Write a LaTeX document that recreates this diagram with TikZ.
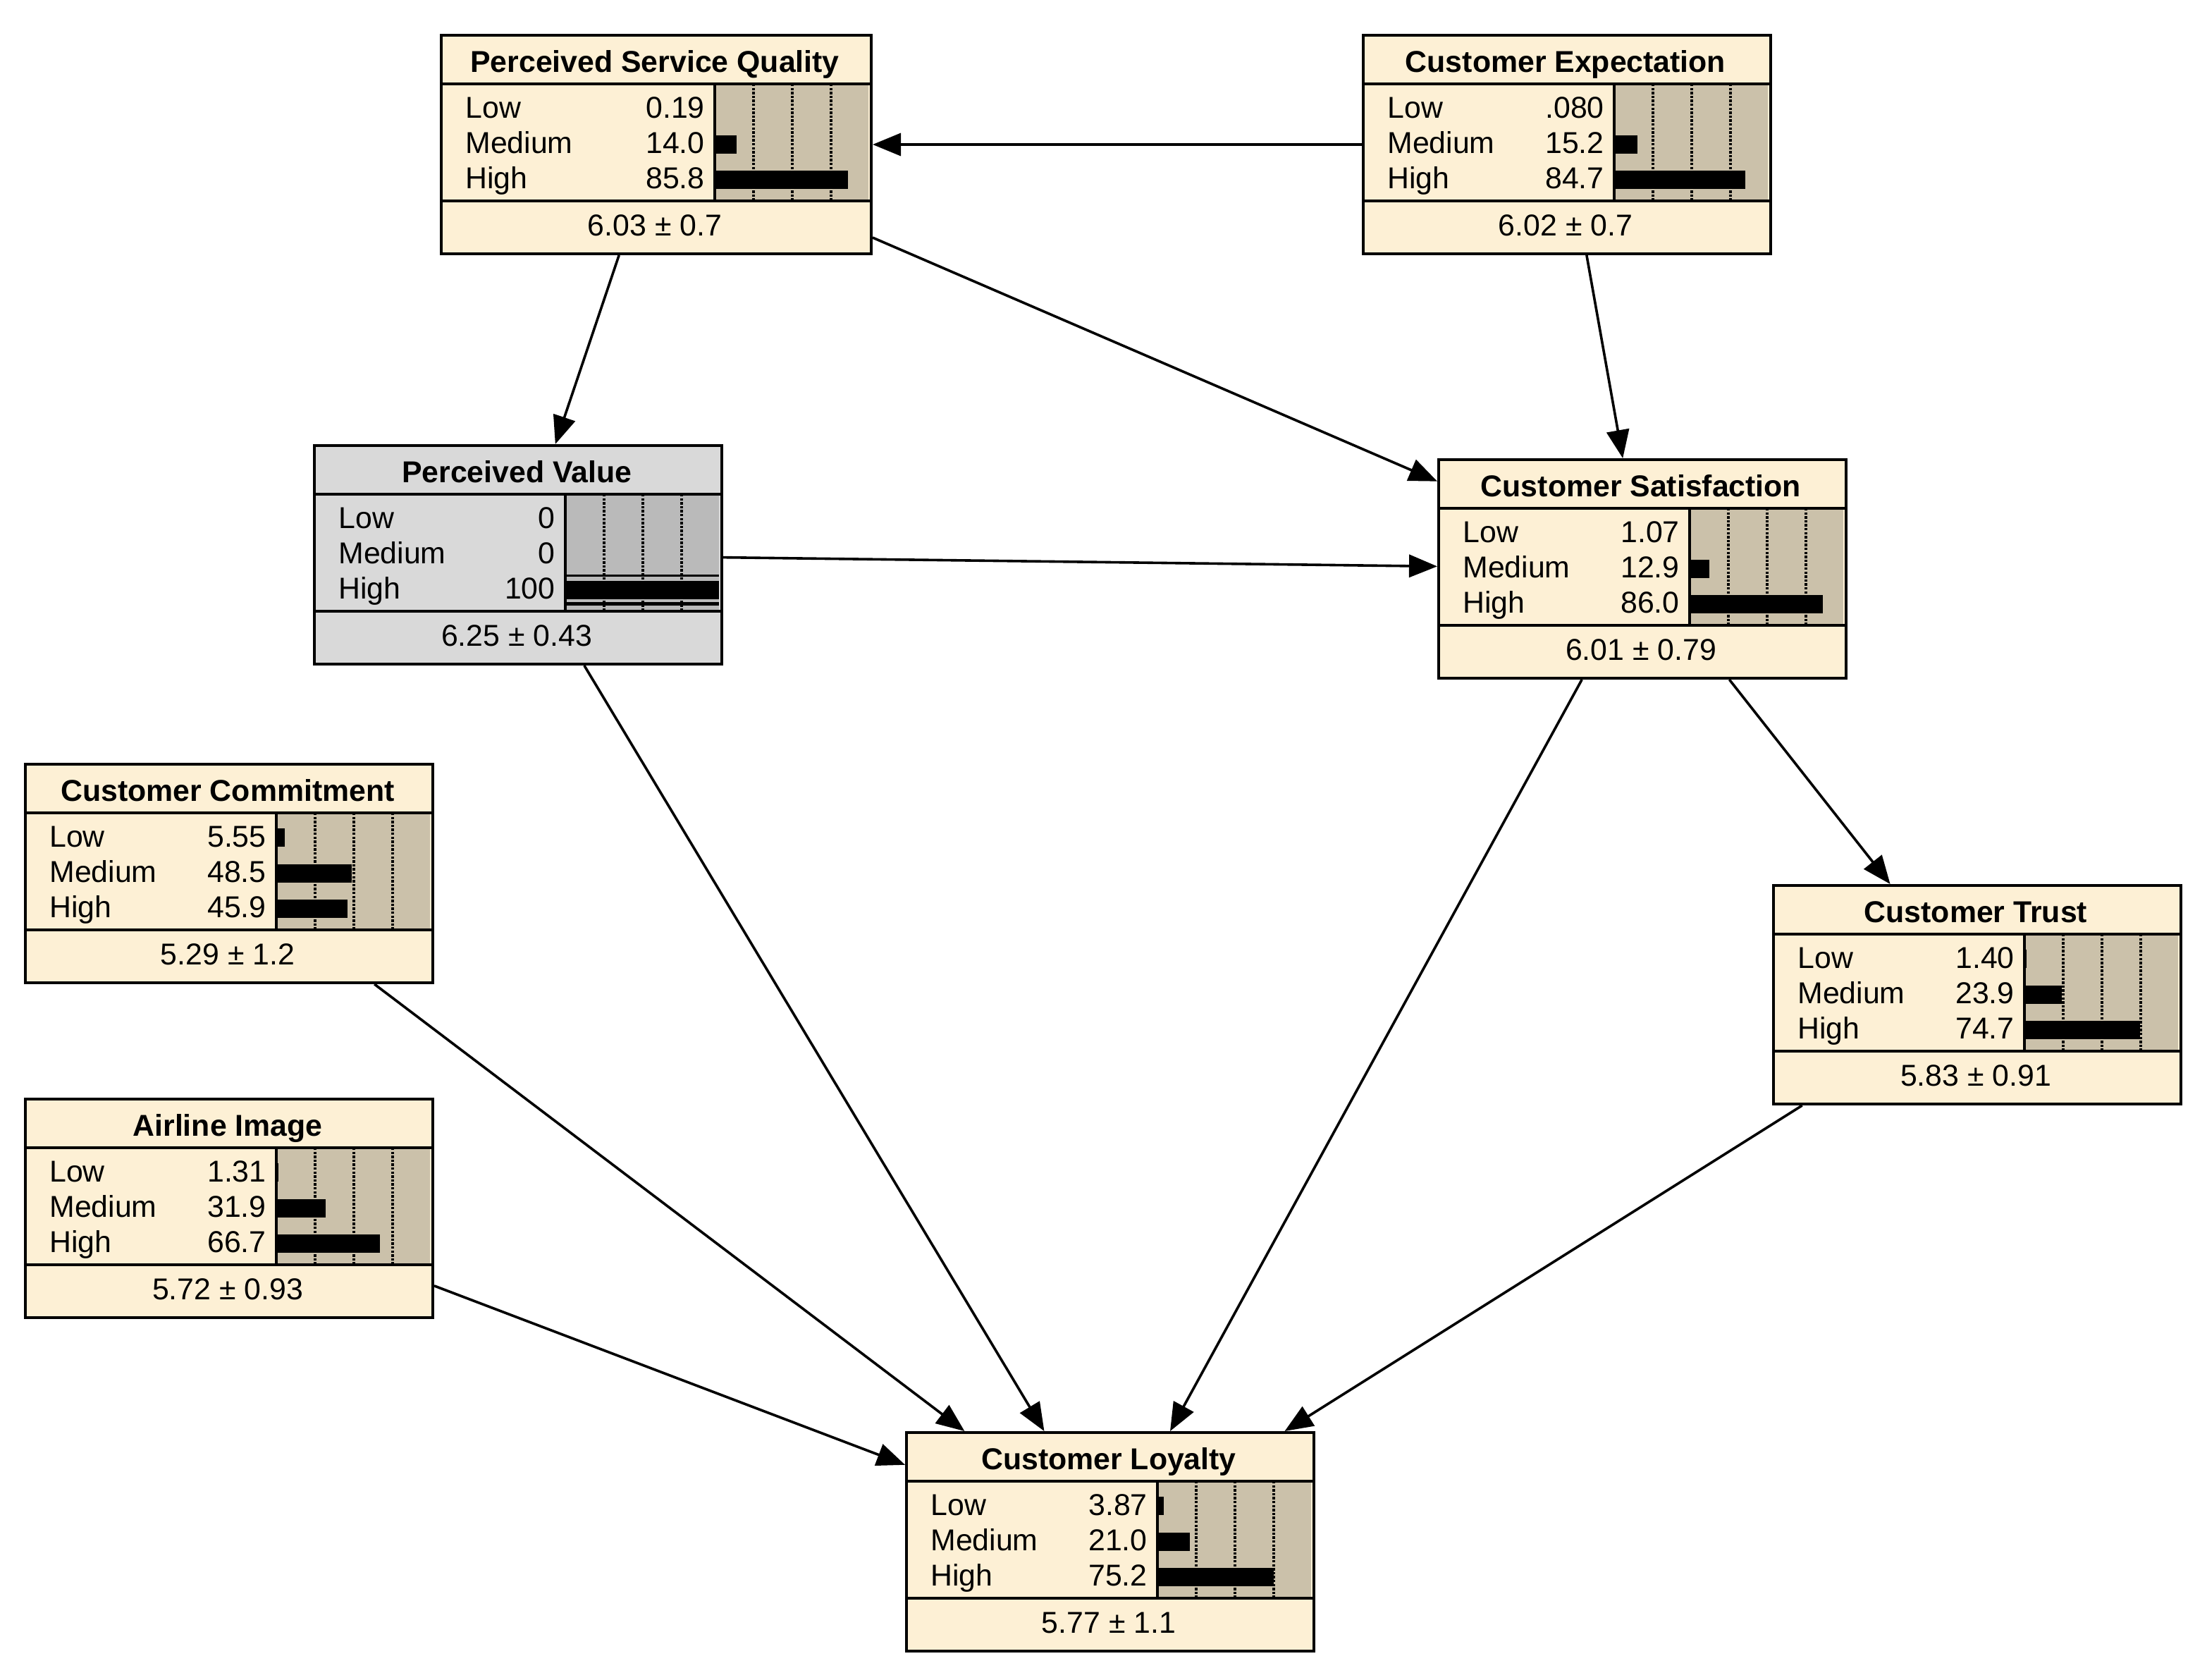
\documentclass[tikz,border=0pt]{standalone}
\usepackage{fontspec}
\setmainfont{Liberation Sans}
\usetikzlibrary{arrows.meta}
\definecolor{boxcream}{RGB}{253,240,213}
\definecolor{bartan}{RGB}{203,193,170}
\definecolor{pvgrey}{RGB}{217,217,217}
\definecolor{pvbar}{RGB}{186,186,186}
\colorlet{boxcol}{boxcream}
\colorlet{barcol}{bartan}

% #1 name, #2 centre, #3 width, #4 title, #5-#7 values, #8 mean
\newcommand{\netnode}[8]{%
  \node[netbox, minimum width=#3pt] (#1) at (#2) {};
  \begin{scope}[shift={(#1.north west)}]
    \fill[barcol] (#3-110,35.5) rectangle (#3-1,118.5);
    \foreach \q in {1,2,3}
      \draw[gridline] (#3-110+27.5*\q,35.5) -- ++(0,83);
    \draw[rule] (0,35.5) -- (#3,35.5) (0,118.5) -- (#3,118.5)
      (#3-110,35.5) -- (#3-110,118.5);
    \node[titletext] (#1-title) at (#3/2,27) {#4};
    \node[rowtext, anchor=base west] (#1-low) at (18,59.7) {Low};
    \node[rowtext, anchor=base west] (#1-med) at (18,84.7) {Medium};
    \node[rowtext, anchor=base west] (#1-high) at (18,109.7) {High};
    \node[rowtext, anchor=base east] (#1-lowval) at (#3-117,59.7) {#5};
    \node[rowtext, anchor=base east] (#1-medval) at (#3-117,84.7) {#6};
    \node[rowtext, anchor=base east] (#1-highval) at (#3-117,109.7) {#7};
    \node[rowtext, anchor=base] (#1-mean) at (#3/2,143.3) {#8};
  \end{scope}}

% #1 name, #2 width, #3-#5 bar percentages
\newcommand{\netbars}[5]{%
  \begin{scope}[shift={(#1.north west)}]
    \fill (#2-110,46.7) rectangle +(1.1*#3,13);
    \fill (#2-110,72) rectangle +(1.1*#4,13);
    \fill (#2-110,97) rectangle +(1.1*#5,13);
  \end{scope}}

\begin{document}
\begin{tikzpicture}[
    x=1pt, y=-1pt,
    netbox/.style={draw, line width=2pt, fill=boxcol, minimum height=155pt, inner sep=0},
    rule/.style={line width=2pt},
    gridline/.style={line width=1.8pt, dash pattern=on 1.7pt off 1.1pt},
    titletext/.style={inner sep=0, anchor=base, font=\bfseries\fontsize{21.4}{25}\selectfont},
    rowtext/.style={inner sep=0, font=\fontsize{21.4}{25}\selectfont},
    link/.style={line width=1.8pt, -{Triangle[length=20pt,width=16pt]}}
    ]
  \fill[white] (0,0) rectangle (1565.5,1191);
  \useasboundingbox (0,0) rectangle (1565.5,1191);

  \netnode{psq}{465.5,102.5}{305}{Perceived Service Quality}{0.19}{14.0}{85.8}{6.03 ± 0.7}
  \netbars{psq}{305}{0.19}{14.0}{85.8}
  \netnode{ce}{1111.5,102.5}{289}{Customer Expectation}{.080}{15.2}{84.7}{6.02 ± 0.7}
  \netbars{ce}{289}{0.08}{15.2}{84.7}
  \begin{scope}
    \colorlet{boxcol}{pvgrey}\colorlet{barcol}{pvbar}
    \netnode{pv}{367.5,393.5}{289}{Perceived Value}{0}{0}{100}{6.25 ± 0.43}
  \end{scope}
  \begin{scope}[shift={(pv.north west)}]
    \fill (179,92.3) rectangle (288,94);
    \fill (179,97) rectangle (288,110.2);
    \fill (179,112) rectangle (288,114.3);
  \end{scope}
  \netnode{cs}{1165,403.5}{289}{Customer Satisfaction}{1.07}{12.9}{86.0}{6.01 ± 0.79}
  \netbars{cs}{289}{1.07}{12.9}{86.0}
  \netnode{cc}{162.5,619.5}{289}{Customer Commitment}{5.55}{48.5}{45.9}{5.29 ± 1.2}
  \netbars{cc}{289}{5.55}{48.5}{45.9}
  \netnode{ct}{1402.5,705.5}{289}{Customer Trust}{1.40}{23.9}{74.7}{5.83 ± 0.91}
  \netbars{ct}{289}{1.40}{23.9}{74.7}
  \netnode{ai}{162.5,857}{289}{Airline Image}{1.31}{31.9}{66.7}{5.72 ± 0.93}
  \netbars{ai}{289}{1.31}{31.9}{66.7}
  \netnode{cl}{787.5,1093.5}{289}{Customer Loyalty}{3.87}{21.0}{75.2}{5.77 ± 1.1}
  \netbars{cl}{289}{3.87}{21.0}{75.2}

  % links
  \draw[link] (ce) -- (psq);
  \draw[link] (psq) -- (pv);
  \draw[link] (psq) -- (cs);
  \draw[link] (ce) -- (cs);
  \draw[link] (pv) -- (cs);
  \draw[link] (cs) -- (ct);
  \draw[link] (pv) -- (cl);
  \draw[link] (cs) -- (cl);
  \draw[link] (cc) -- (cl);
  \draw[link] (ai) -- (cl);
  \draw[link] (ct) -- (cl);
\end{tikzpicture}
\end{document}
